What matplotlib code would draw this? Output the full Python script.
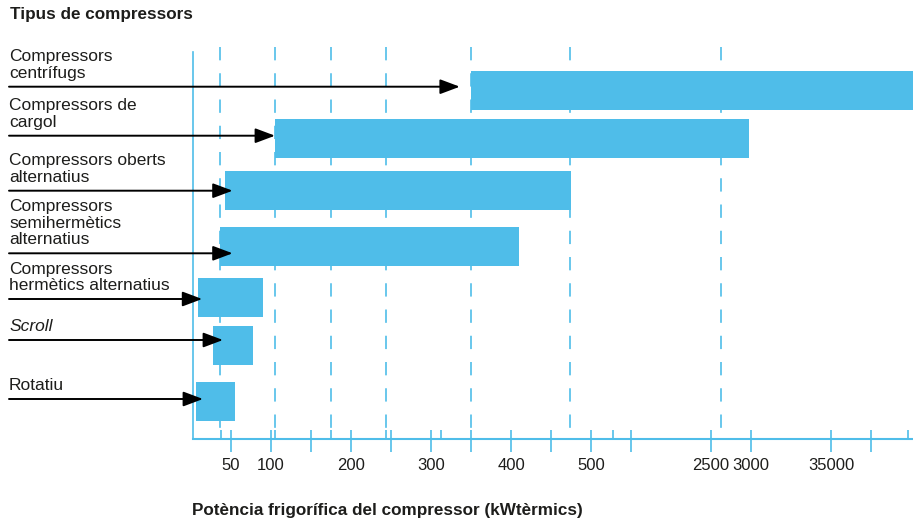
import numpy as np
import matplotlib
matplotlib.use("Agg")
import matplotlib.pyplot as plt
from matplotlib import transforms

plt.rcParams['font.family'] = ['Liberation Sans', 'DejaVu Sans']
plt.rcParams['lines.scale_dashes'] = False

# Compressor types, listed top to bottom
categories = [
    "Compressors\ncentrífugs",
    "Compressors de\ncargol",
    "Compressors oberts\nalternatius",
    "Compressors\nsemihermètics\nalternatius",
    "Compressors\nhermètics alternatius",
    "Scroll",
    "Rotatiu",
]
italic_labels = ["Scroll"]

# Cooling capacity ranges (kW)
range_min = [350, 105, 42, 36, 9, 27.5, 6]
range_max = [70000, 2975, 475, 410, 90, 77.5, 55]
arrow_tip = [336, 105, 52, 52, 14, 40, 15]

tick_values = [50, 100, 200, 300, 400, 500, 2500, 3000, 35000]
tick_labels = ["50", "100", "200", "300", "400", "500", "2500", "3000", "35000"]
unlabeled_ticks = [150, 250, 350, 450, 1167, 51000]
short_ticks = [37, 105, 175, 244, 313, 863, 65720]
guide_values = [36, 105, 175, 244, 350, 474, 2625]

# Piecewise axis: linear up to 500 kW, compressed segments beyond
scale_kw = [0, 500, 2500, 3000, 35000, 99000]
scale_pos = [0, 500, 650, 700, 800, 1000]

W, H = 913, 522
BLUE = "#4FBDE9"
INK = "#1d1d1b"

# vertical layout (pixel rows from the top of the figure)
row_y = [90.5, 138.5, 190.5, 246.5, 297.5, 345.5, 401.5]
arrow_y = [86.7, 135.7, 190.7, 253.3, 299, 340, 399]
bar_h = 39
y_bottom, y_top = 439, 47
label_gap = 6

fig = plt.figure(figsize=(W / 100, H / 100), dpi=100)
ax = fig.add_axes([193 / W, (H - y_bottom) / H, 720 / W, (y_bottom - y_top) / H])
ax.set_xscale('function', functions=(
    lambda v: np.interp(v, scale_kw, scale_pos),
    lambda u: np.interp(u, scale_pos, scale_kw),
))
ax.set_xlim(2.5, 67800)
ax.set_ylim(y_bottom, y_top)

# dashed guides behind the bars
ax.vlines(guide_values, y_top, y_bottom, colors=BLUE, linewidth=1.2,
          linestyles=[(0, (9.6, 9.3))], zorder=1)

ax.barh(row_y, np.subtract(range_max, range_min), left=range_min,
        height=bar_h, color=BLUE, zorder=2)

# axis styling
for side in ("top", "right"):
    ax.spines[side].set_visible(False)
ax.spines["left"].set_color(BLUE)
ax.spines["left"].set_linewidth(1.2)
ax.spines["left"].set_bounds(y_bottom, 52)
ax.spines["bottom"].set_color(BLUE)
ax.spines["bottom"].set_linewidth(1.5)
ax.set_yticks([])

ax.set_xticks(tick_values + unlabeled_ticks,
              tick_labels + [""] * len(unlabeled_ticks))
ax.set_xticks(short_ticks + tick_values + unlabeled_ticks, minor=True)
ax.xaxis.remove_overlapping_locs = False
ax.tick_params(axis="x", which="major", direction="out", length=9.4,
               width=1.2, color=BLUE, pad=4.5, labelsize=12, labelcolor=INK)
ax.tick_params(axis="x", which="minor", direction="in", length=6.3,
               width=1.2, color=BLUE)

# category labels with arrows pointing to the start of each range
blend = transforms.blended_transform_factory(ax.transAxes, ax.transData)
x_left = (9 - 193) / 720
for name, ay, tip in zip(categories, arrow_y, arrow_tip):
    style = "italic" if name in italic_labels else "normal"
    ax.text(x_left, ay - label_gap, name, transform=blend, ha="left",
            va="bottom", fontsize=12.5, color=INK, style=style,
            linespacing=1.12, clip_on=False)
    ax.annotate("", xy=(tip, ay), xycoords="data",
                xytext=(x_left, ay), textcoords=blend,
                arrowprops=dict(arrowstyle="-|>,head_length=1.2,head_width=0.45",
                                mutation_scale=10, color="black", lw=1.4,
                                shrinkA=0, shrinkB=0))

fig.text(10 / W, 1 - 15 / H, "Tipus de compressors", fontsize=12.3,
         fontweight="bold", color=INK, va="center", ha="left")
fig.text(192 / W, 1 - 510 / H, "Potència frigorífica del compressor (kWtèrmics)",
         fontsize=12.3, fontweight="bold", color=INK, va="center", ha="left")

fig.savefig("out.png", dpi=100)
